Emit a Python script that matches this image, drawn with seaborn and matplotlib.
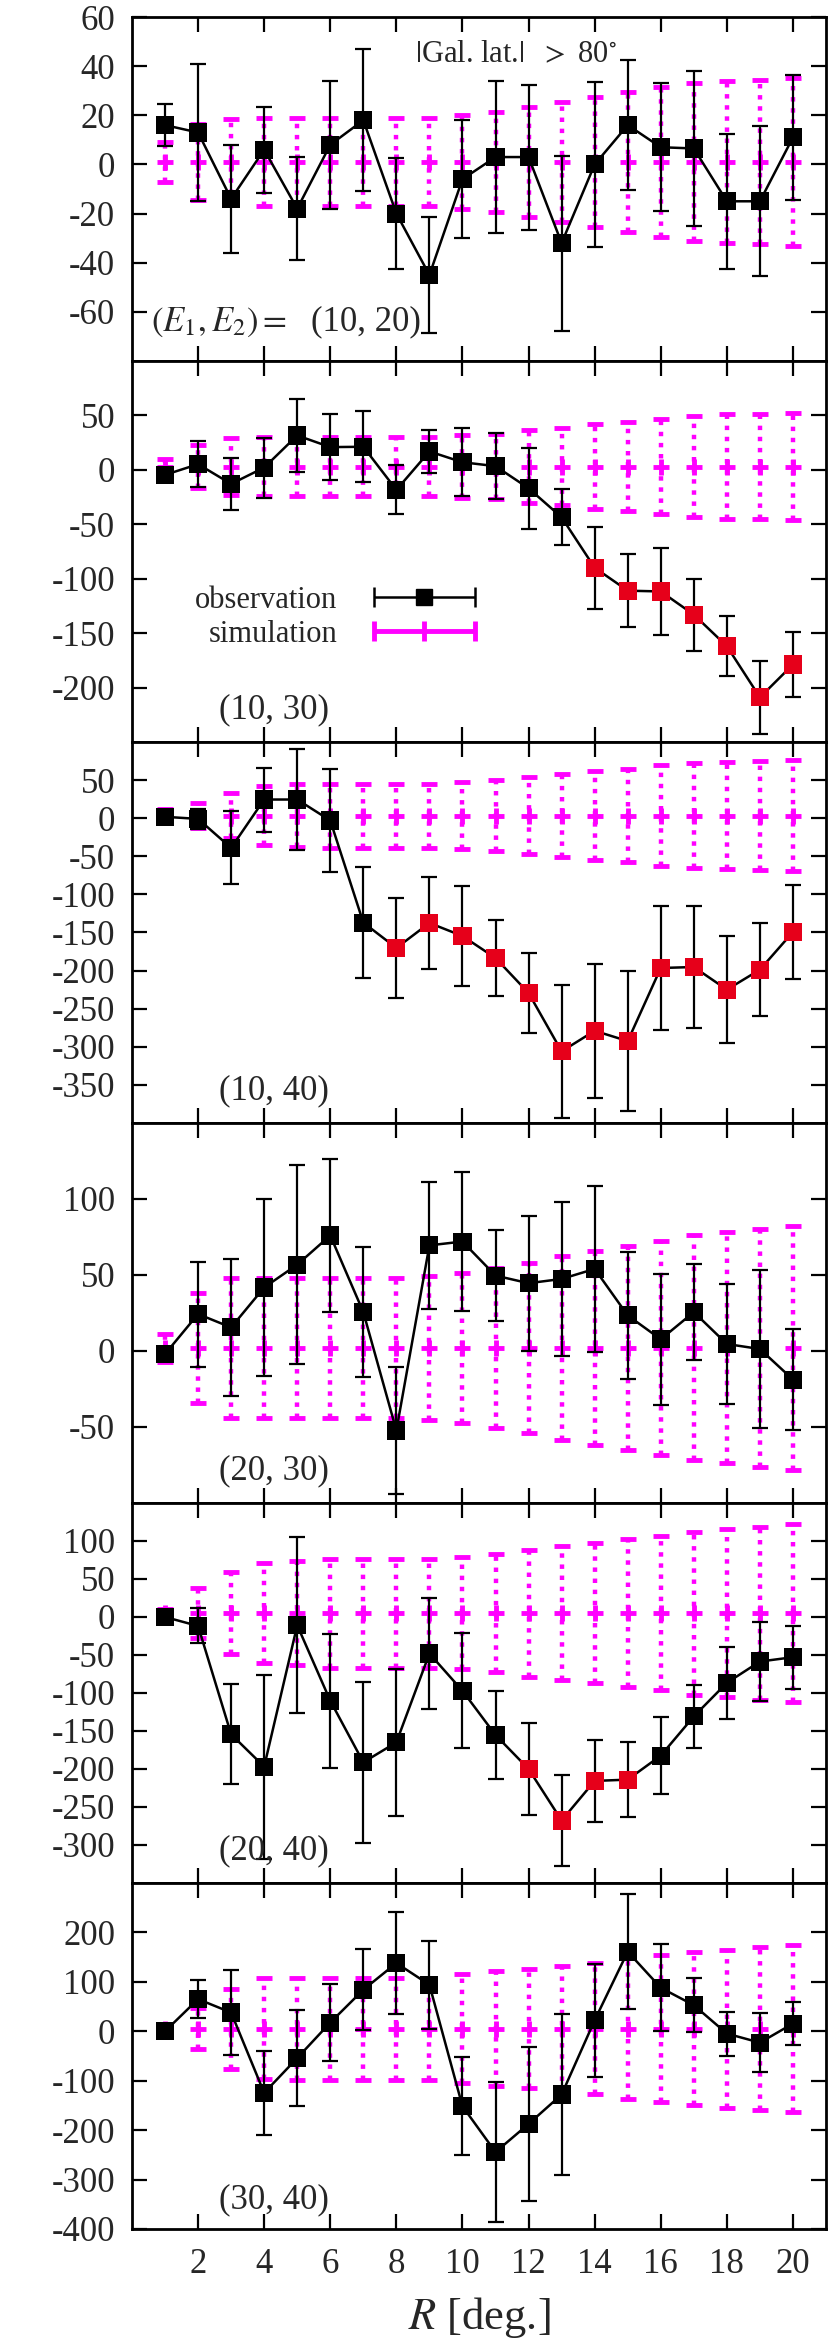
import numpy as np
import pandas as pd
import matplotlib
matplotlib.use("Agg")
import matplotlib.pyplot as plt
import seaborn as sns
from matplotlib.container import ErrorbarContainer
from matplotlib.legend_handler import HandlerErrorbar

# --- Data ---
R = list(range(1, 21))

# (E1, E2) = (10, 20)
obs_10_20 = [16, 13, -14, 6, -18, 8, 18, -20, -45, -6, 3, 3, -32, 0, 16, 7, 6.5, -15, -15, 11]
err_10_20 = [8.6, 28, 22, 17.5, 21, 26, 29, 22.7, 23.7, 24, 31, 29.5, 35.6, 33.6, 26.3, 26, 31.4, 27.5, 30.6, 25.3]
red_10_20 = []
sim_mid_10_20 = [1, 1, 1, 1, 1, 1, 1, 1, 1, 1, 1, 1, 1, 1, 1, 1, 1, 1, 1, 1]
sim_err_10_20 = [8, 15.5, 17.5, 18, 18, 18, 18, 18, 18, 19, 20.5, 22.5, 24.5, 26.5, 28.5, 30.5, 32, 33, 33.5, 34]

# (10, 30)
obs_10_30 = [-4.6, 5.2, -12.9, 2.1, 31.6, 20.9, 21.2, -18.4, 16.9, 7, 3.4, -16.9, -43.6,
             -89.9, -111, -111.7, -133, -162, -209, -178.8]
err_10_30 = [4, 21, 24, 27.6, 33.6, 30.6, 32.8, 22.6, 19.8, 31.4, 30, 37, 25.6, 37.6, 33.7, 40, 33, 27.5, 33.7, 30.2]
red_10_30 = [14, 15, 16, 17, 18, 19, 20]
sim_mid_10_30 = [3, 3, 3, 3, 3, 3, 3, 3, 3, 3, 3, 3, 3, 3, 3, 3, 3, 3, 3, 3]
sim_err_10_30 = [7, 20, 26, 27, 27, 27, 27, 27, 27, 29, 30, 33.5, 35.5, 39, 41, 44, 46.5, 48, 48.5, 49]

# (10, 40)
obs_10_40 = [1.8, -0.9, -39, 24.5, 24.5, -3, -137, -170.3, -137.5, -154.6, -183.5, -229.4, -306,
             -279, -292.5, -196.6, -195.3, -225, -198.8, -149.3]
err_10_40 = [6, 13.5, 48, 42, 65.7, 67, 72.4, 65.7, 60.2, 66, 50.4, 53, 87, 87.8, 91.8, 81, 80.5, 70.5, 60.8, 61.3]
red_10_40 = [8, 9, 10, 11, 12, 13, 14, 15, 16, 17, 18, 19, 20]
sim_mid_10_40 = [3.5, 3.5, 3.5, 3.5, 3.5, 3.5, 3.5, 3.5, 3.5, 3.5, 3.5, 3.5, 3.5, 3.5, 3.5, 3.5, 3.5, 3.5, 3.5, 3.5]
sim_err_10_40 = [8, 16, 30, 39, 41, 42, 42, 42, 42, 44, 46.5, 50, 54, 58, 61.5, 66, 68.5, 70.7, 71.8, 73]

# (20, 30)
obs_20_30 = [-2, 24.3, 15.5, 41.8, 56.8, 76, 25.6, -52.3, 69.5, 72, 49.6, 44.6, 47.4, 54, 23.4, 7.7, 25.6, 4.6, 1.3, -18.8]
err_20_30 = [3, 34.5, 44.8, 58.3, 65.5, 50.3, 43, 42, 41.8, 45.7, 29.9, 44.3, 50.8, 54.6, 41.9, 43, 31.4, 39.4, 51.9, 33]
red_20_30 = []
sim_mid_20_30 = [2, 2, 2, 2, 2, 2, 2, 2, 2, 2, 2, 2, 2, 2, 2, 2, 2, 2, 2, 2]
sim_err_20_30 = [9, 36, 46, 46, 46, 46, 46, 46, 47.5, 49.5, 52.5, 56, 60.5, 64, 67, 70.5, 74, 76, 78, 80]

# (20, 40)
obs_20_40 = [0, -11.8, -154.4, -196.9, -10.9, -110.2, -191.2, -165, -48.1, -97.1, -155.3, -200, -267.7,
             -215.7, -214, -182.4, -130.8, -86.6, -58.6, -52.9]
err_20_40 = [5, 23, 66, 121, 115.5, 88, 105.8, 97, 73, 75.7, 57.7, 60, 60, 54, 49, 50.6, 41, 47.7, 51.4, 41.3]
red_20_40 = [12, 13, 14, 15]
sim_mid_20_40 = [5, 5, 5, 5, 5, 5, 5, 5, 5, 5, 5, 5, 5, 5, 5, 5, 5, 5, 5, 5]
sim_err_20_40 = [6, 33, 54, 65.6, 68.8, 71.7, 71.7, 71.7, 71.7, 73.7, 78, 83.3, 88, 92, 97, 101.6, 107, 110.6, 114, 117]

# (30, 40)
obs_30_40 = [0, 65, 37.9, -124.6, -54.2, 17.6, 84, 138, 94.1, -151.7, -244.4, -187.5, -128,
             22.3, 161, 88, 52.8, -4.7, -23, 15.6]
err_30_40 = [8, 38.3, 85.6, 85.3, 96.5, 77.5, 82, 102.6, 88.7, 99.5, 141.8, 156.7, 162.8, 114.4, 116, 87.6, 54.8, 44.7, 59.2, 43]
red_30_40 = []
sim_mid_30_40 = [5.4, 5.4, 5.4, 5.4, 5.4, 5.4, 5.4, 5.4, 5.4, 5.4, 5.4, 5.4, 5.4, 5.4, 5.4, 5.4, 5.4, 5.4, 5.4, 5.4]
sim_err_30_40 = [10, 42, 81, 102, 103, 103, 103, 103, 103, 110, 116, 120.5, 127.5, 133, 142, 148, 154, 160, 165, 168.5]

panel_labels = ["(10, 20)", "(10, 30)", "(10, 40)", "(20, 30)", "(20, 40)", "(30, 40)"]
ylims = [(-80, 60), (-250, 100), (-400, 100), (-100, 150), (-350, 150), (-400, 300)]
yticks = [
    [-60, -40, -20, 0, 20, 40, 60],
    [-200, -150, -100, -50, 0, 50],
    [-350, -300, -250, -200, -150, -100, -50, 0, 50],
    [-50, 0, 50, 100],
    [-300, -250, -200, -150, -100, -50, 0, 50, 100],
    [-400, -300, -200, -100, 0, 100, 200],
]
xticks = [2, 4, 6, 8, 10, 12, 14, 16, 18, 20]

MAGENTA = "#ff00ff"
RED = "#e6001a"

# --- Style ---
sns.set_theme(style="ticks")
plt.rcParams["font.family"] = ["Liberation Serif", "DejaVu Serif"]
plt.rcParams["mathtext.fontset"] = "stix"
plt.rcParams["axes.unicode_minus"] = False
plt.rcParams["axes.linewidth"] = 2.0


def draw_panel(ax, obs, err, red, sim_mid, sim_err):
    df = pd.DataFrame({"R": R, "obs": obs, "err": err, "sig": [r in red for r in R]})

    # simulation: magenta dotted error bars with a cross at the centre
    sim = ax.errorbar(R, sim_mid, yerr=sim_err, fmt="+", color=MAGENTA, ms=11, mew=3.5,
                      elinewidth=3.2, capsize=6, capthick=3, zorder=1)
    sim[2][0].set_linestyle((0, (1.0, 1.5)))

    # observation: black error bars, joined squares
    ax.errorbar(df["R"], df["obs"], yerr=df["err"], fmt="none", ecolor="black",
                elinewidth=1.6, capsize=6, capthick=1.6, zorder=2)
    sns.lineplot(data=df, x="R", y="obs", color="black", lw=1.8, ax=ax, zorder=3)
    pal = {False: "black", True: RED}
    sns.scatterplot(data=df, x="R", y="obs", hue="sig", palette=pal, marker="s", s=170,
                    linewidth=0, legend=False, ax=ax, zorder=4)
    ax.set_xlabel("")
    ax.set_ylabel("")


fig = plt.figure(figsize=(8.3, 23.45), dpi=100)
gs = fig.add_gridspec(6, 1, height_ratios=[344, 381, 381, 380, 380, 346], hspace=0,
                      left=0.159, right=0.9952, top=0.99275, bottom=0.04947)
axes = [fig.add_subplot(gs[i, 0]) for i in range(6)]

series = [
    (obs_10_20, err_10_20, red_10_20, sim_mid_10_20, sim_err_10_20),
    (obs_10_30, err_10_30, red_10_30, sim_mid_10_30, sim_err_10_30),
    (obs_10_40, err_10_40, red_10_40, sim_mid_10_40, sim_err_10_40),
    (obs_20_30, err_20_30, red_20_30, sim_mid_20_30, sim_err_20_30),
    (obs_20_40, err_20_40, red_20_40, sim_mid_20_40, sim_err_20_40),
    (obs_30_40, err_30_40, red_30_40, sim_mid_30_40, sim_err_30_40),
]

for i, ax in enumerate(axes):
    draw_panel(ax, *series[i])
    ax.set_xlim(0, 21)
    ax.set_ylim(*ylims[i])
    ax.set_xticks(xticks)
    ax.set_yticks(yticks[i])
    ax.tick_params(direction="in", length=11, width=1.6, top=True, right=True,
                   labelsize=25, color="black")
    ax.tick_params(axis="y", pad=12)
    ax.tick_params(axis="x", pad=14)
    for s in ax.spines.values():
        s.set_color("black")
        s.set_linewidth(2.0)
    if i < 5:
        ax.tick_params(labelbottom=False)
    if i > 0:
        ax.text(0.205, 0.085, panel_labels[i], transform=ax.transAxes, fontsize=25,
                ha="center", va="center")

# top panel annotations
axes[0].text(0.125, 0.113, r"$(E_1, E_2) =$", transform=axes[0].transAxes, fontsize=25,
             ha="center", va="center")
axes[0].text(0.337, 0.113, panel_labels[0], transform=axes[0].transAxes, fontsize=25,
             ha="center", va="center")
axes[0].text(0.553, 0.89, r"$|$Gal. lat.$|$  $>$ 80$^{\circ}$", transform=axes[0].transAxes,
             fontsize=22, ha="center", va="center")

# legend in the second panel
obs_proxy = axes[1].errorbar([np.nan], [np.nan], xerr=[1.0], fmt="s", color="black", ms=11,
                             lw=1.8, capsize=7, capthick=1.8, label="observation")
sim_proxy = axes[1].errorbar([np.nan], [np.nan], xerr=[1.0], fmt="|", color=MAGENTA, ms=14,
                             mew=3.5, lw=3.5, capsize=7, capthick=3.5, label="simulation")
axes[1].legend(handles=[obs_proxy, sim_proxy], loc="center right", bbox_to_anchor=(0.494, 0.327),
               frameon=False, fontsize=22, markerfirst=False, handlelength=3.3,
               handletextpad=1.2, labelspacing=0.15, borderpad=0, borderaxespad=0,
               handler_map={ErrorbarContainer: HandlerErrorbar(xerr_size=1.65)})

axes[-1].set_xlabel(r"$R$ [deg.]", fontsize=32, labelpad=10)

fig.savefig("out.png", dpi=100)
